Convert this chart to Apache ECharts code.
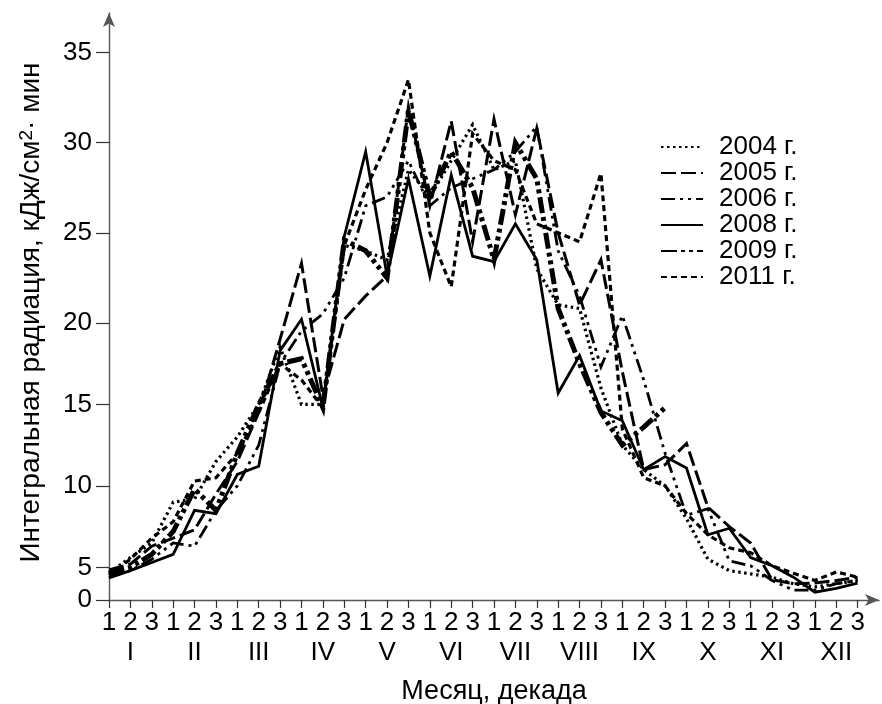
<!DOCTYPE html>
<html>
<head>
<meta charset="utf-8">
<script src="https://cdn.jsdelivr.net/npm/echarts@6/dist/echarts.min.js"></script>
<style>
  html, body { margin: 0; padding: 0; background: #fff; }
  #chart { width: 882px; height: 704px; }
</style>
</head>
<body>
<div id="chart"></div>
<script>
// Decades of the year (three per month) and their labels
const decades = [1,2,3,4,5,6,7,8,9,10,11,12,13,14,15,16,17,18,19,20,21,22,23,24,25,26,27,28,29,30,31,32,33,34,35,36];
const monthMiddles = [2,5,8,11,14,17,20,23,26,29,32,35];
const decadeNames = ['1', '2', '3'];
const months = ['I','II','III','IV','V','VI','VII','VIII','IX','X','XI','XII'];
const yTicks = [0, 5, 10, 15, 20, 25, 30, 35];
const years = ['2004 г.', '2005 г.', '2006 г.', '2008 г.', '2009 г.', '2011 г.'];

// Integral radiation per decade, kJ/cm²·min (2009 observations end in September)
const r2004 = [4.2,5.6,6.5,9.0,9.2,11.5,13.0,15.0,18.5,15.0,15.0,24.3,24.0,23.5,28.5,27.0,29.0,31.0,28.5,29.0,23.0,21.0,20.8,16.0,12.5,11.0,10.0,8.0,5.5,4.5,4.0,3.5,2.5,2.0,2.5,3.0];
const r2005 = [4.6,5.2,6.3,6.8,7.3,9.5,11.5,14.5,19.0,23.3,15.5,20.2,21.5,22.6,32.0,26.5,31.2,24.5,31.3,26.0,30.8,25.0,21.0,23.5,17.0,11.0,11.3,12.6,8.7,7.5,6.5,3.1,2.5,2.6,3.0,3.5];
const r2006 = [3.5,4.5,5.5,6.5,6.3,8.5,10.0,12.5,17.5,19.5,20.5,22.5,26.5,27.0,29.0,26.5,27.5,28.0,28.5,29.5,30.9,24.0,21.5,17.3,20.4,16.5,12.0,8.2,8.6,5.4,5.1,3.0,1.5,1.5,2.5,3.0];
const r2008 = [3.4,4.5,5.3,5.8,8.5,8.3,10.7,11.2,18.3,20.2,14.8,24.8,29.5,22.6,28.0,22.6,28.2,23.7,23.4,25.5,23.5,15.7,18.0,14.6,14.0,11.0,11.8,11.1,7.0,7.4,5.6,5.1,3.5,1.2,1.8,2.6];
const r2009 = [4.0,5.0,5.8,7.2,9.8,8.5,12.0,15.0,17.5,17.8,14.8,24.6,24.0,22.5,31.8,27.0,29.5,27.5,23.5,30.0,28.0,20.8,17.5,14.5,12.5,13.6,14.8];
const r2011 = [3.8,5.5,6.8,7.8,10.3,10.5,12.0,14.5,17.5,16.5,14.8,24.3,27.4,30.0,33.5,25.0,22.0,30.5,29.0,28.5,25.5,25.0,24.5,28.3,13.5,10.5,10.0,8.3,7.0,6.2,5.9,5.1,4.1,3.0,4.3,3.5];

const seriesValues = [r2004, r2005, r2006, r2008, r2009, r2011];
const seriesStyles = [
  { type: [2.5, 3.5], width: 3.2 },
  { type: [15, 5], width: 3 },
  { type: [14, 5, 3, 5, 3, 5], width: 2.8 },
  { type: 'solid', width: 2.8 },
  { type: [16, 4, 4, 4, 4, 4], width: 5 },
  { type: [6, 4], width: 3.2 }
];

const font = '"Liberation Sans", Arial, sans-serif';
const axisGray = '#555';

const chart = echarts.init(document.getElementById('chart'), null, { renderer: 'canvas' });

chart.setOption({
  animation: false,
  backgroundColor: '#fff',
  grid: { left: 109, right: 3, top: 13, bottom: 104, containLabel: false, outerBoundsMode: 'none' },
  legend: {
    orient: 'vertical',
    left: 655,
    top: 129,
    itemWidth: 42,
    itemHeight: 12,
    itemGap: 0,
    data: years,
    itemStyle: { opacity: 0, color: 'transparent', borderWidth: 0 },
    textStyle: { fontFamily: font, fontSize: 26, color: '#000', lineHeight: 25.6, padding: [0, 0, 0, 11] }
  },
  xAxis: [{
    // decade numbers 1-2-3 under each tick
    type: 'value',
    min: 1,
    max: 37,
    name: 'Месяц, декада',
    nameLocation: 'middle',
    nameGap: 78,
    nameTextStyle: { fontFamily: font, fontSize: 27, color: '#000' },
    axisLine: {
      show: true,
      symbol: ['none', 'arrow'],
      symbolSize: [9, 14],
      lineStyle: { color: axisGray, width: 1.4 }
    },
    axisTick: {
      show: true,
      customValues: decades,
      length: 8,
      lineStyle: { color: '#333', width: 1.2 }
    },
    axisLabel: {
      customValues: decades,
      showMinLabel: true,
      showMaxLabel: true,
      hideOverlap: false,
      margin: 8,
      fontFamily: font,
      fontSize: 26,
      color: '#000',
      lineHeight: 30,
      formatter: function (v) {
        return decadeNames[(Math.round(v) - 1) % 3];
      }
    },
    splitLine: { show: false }
  }, {
    // month numerals in the second row
    type: 'value',
    position: 'bottom',
    offset: 30,
    min: 1,
    max: 37,
    axisLine: { show: false },
    axisTick: { show: false },
    axisLabel: {
      customValues: monthMiddles,
      hideOverlap: false,
      margin: 8,
      fontFamily: font,
      fontSize: 26,
      color: '#000',
      lineHeight: 30,
      formatter: function (v) {
        return months[(Math.round(v) - 2) / 3];
      }
    },
    splitLine: { show: false }
  }],
  yAxis: [{
    type: 'value',
    min: 0,
    max: 37.2,
    // the 0–5 and 5–20 spans of the scale are drawn compressed
    breaks: [
      { start: 0, end: 5, gap: 1.81 },
      { start: 5, end: 20, gap: 13.57 }
    ],
    breakArea: { show: false, itemStyle: { opacity: 0, borderWidth: 0 } },
    name: 'Интегральная радиация, кДж/см{sup|2}· мин',
    nameLocation: 'middle',
    nameGap: 64,
    nameRotate: 90,
    nameTextStyle: {
      fontFamily: font, fontSize: 28, color: '#000',
      padding: [0, 12, 0, 0],
      rich: { sup: { fontFamily: font, fontSize: 19, color: '#000', verticalAlign: 'top', lineHeight: 14 } }
    },
    axisLine: { show: false },
    axisTick: {
      show: true,
      customValues: yTicks,
      length: 13,
      lineStyle: { color: '#333', width: 1.2 }
    },
    axisLabel: {
      customValues: yTicks,
      margin: 17,
      fontFamily: font,
      fontSize: 26,
      color: '#000'
    },
    splitLine: { show: false }
  }, {
    // plain vertical axis line with its arrow
    type: 'value',
    position: 'left',
    min: 0,
    max: 1,
    axisLine: {
      show: true,
      onZero: false,
      symbol: ['none', 'arrow'],
      symbolSize: [9, 14],
      lineStyle: { color: axisGray, width: 1.4 }
    },
    axisTick: { show: false },
    axisLabel: { show: false },
    splitLine: { show: false }
  }],
  series: seriesValues.map(function (vals, s) {
    return {
      name: years[s],
      type: 'line',
      xAxisIndex: 0,
      yAxisIndex: 0,
      symbol: 'none',
      data: vals.map(function (v, i) { return [decades[i], v]; }),
      lineStyle: {
        color: '#000',
        width: seriesStyles[s].width,
        type: seriesStyles[s].type,
        cap: 'butt',
        join: 'miter'
      },
      itemStyle: { color: '#000' }
    };
  })
});
</script>
</body>
</html>
